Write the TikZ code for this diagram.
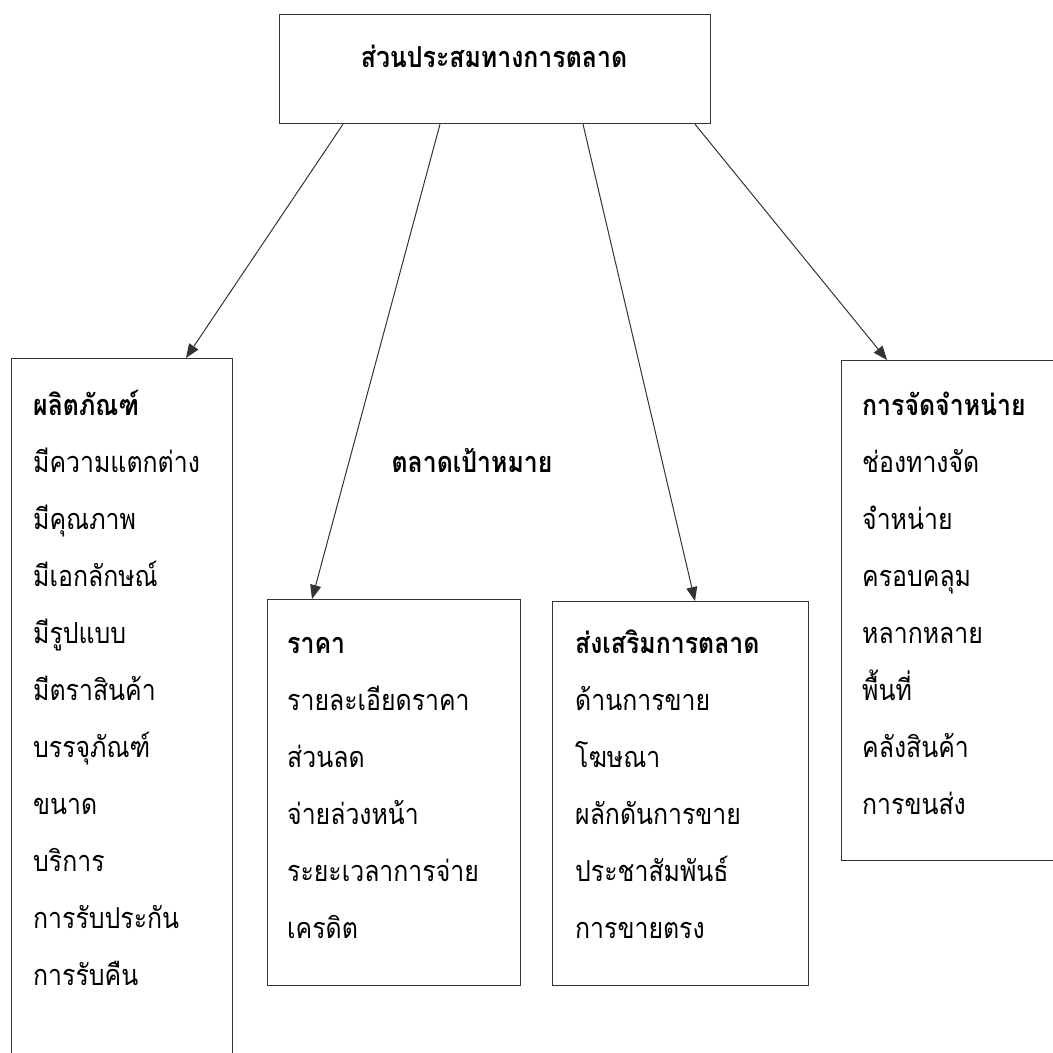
\documentclass[tikz,border=0pt]{standalone}
\usepackage{fontspec}
\newfontfamily\thaifont[Script=Thai, FakeStretch=0.86]{Loma}
\usetikzlibrary{positioning,calc,arrows.meta}

\begin{document}
\begin{tikzpicture}[x=1bp, y=-1bp,
    box/.style={rectangle, draw=black!80, line width=1.2pt, inner sep=0pt, anchor=north west},
    head/.style={font=\thaifont\bfseries\fontsize{29}{34}\selectfont, inner sep=0pt, anchor=base west},
    item/.style={font=\thaifont\fontsize{29}{34}\selectfont, inner sep=0pt, anchor=base west},
    arrow/.style={-{Triangle[length=14bp, width=11bp]}, line width=1pt, black!80}
]
    \clip (0,0) rectangle (1053,1053);
    \useasboundingbox (0,0) rectangle (1053,1053);

    % boxes
    \node[box, minimum width=431bp, minimum height=109bp] (mix) at (279,14) {};
    \node[box, minimum width=221bp, minimum height=760bp] (product) at (11,358) {};
    \node[box, minimum width=253bp, minimum height=386bp] (price) at (267,599) {};
    \node[box, minimum width=256bp, minimum height=384bp] (promo) at (552,601) {};
    \node[box, minimum width=260bp, minimum height=500bp] (place) at (841,360) {};

    % titles
    \node[head, anchor=base] (mixtitle) at (494,67) {ส่วนประสมทางการตลาด};
    \node[head, anchor=base] (target) at (472,472) {ตลาดเป้าหมาย};

    % product
    \node[head] (ptitle) at (33,415) {ผลิตภัณฑ์};
    \foreach \t [count=\i] in {มีความแตกต่าง, มีคุณภาพ, มีเอกลักษณ์, มีรูปแบบ,
        มีตราสินค้า, บรรจุภัณฑ์, ขนาด, บริการ, การรับประกัน, การรับคืน}
        \node[item] (p\i) at (33,415+57*\i) {\t};

    % price
    \node[head] (rtitle) at (287,653) {ราคา};
    \foreach \t [count=\i] in {รายละเอียดราคา, ส่วนลด, จ่ายล่วงหน้า, ระยะเวลาการจ่าย, เครดิต}
        \node[item] (r\i) at (287,653+57*\i) {\t};

    % promotion
    \node[head] (stitle) at (575,653) {ส่งเสริมการตลาด};
    \foreach \t [count=\i] in {ด้านการขาย, โฆษณา, ผลักดันการขาย, ประชาสัมพันธ์, การขายตรง}
        \node[item] (s\i) at (575,653+57*\i) {\t};

    % place
    \node[head] (dtitle) at (862,415) {การจัดจำหน่าย};
    \foreach \t [count=\i] in {ช่องทางจัด, จำหน่าย, ครอบคลุม, หลากหลาย, พื้นที่, คลังสินค้า, การขนส่ง}
        \node[item] (d\i) at (862,415+57*\i) {\t};

    % arrows
    \draw[arrow] ([xshift=64bp]mix.south west) -- ([xshift=175bp]product.north west);
    \draw[arrow] ([xshift=161bp]mix.south west) -- ([xshift=45bp]price.north west);
    \draw[arrow] ([xshift=304bp]mix.south west) -- ([xshift=143bp]promo.north west);
    \draw[arrow] ([xshift=416bp]mix.south west) -- ([xshift=46bp]place.north west);
\end{tikzpicture}
\end{document}
